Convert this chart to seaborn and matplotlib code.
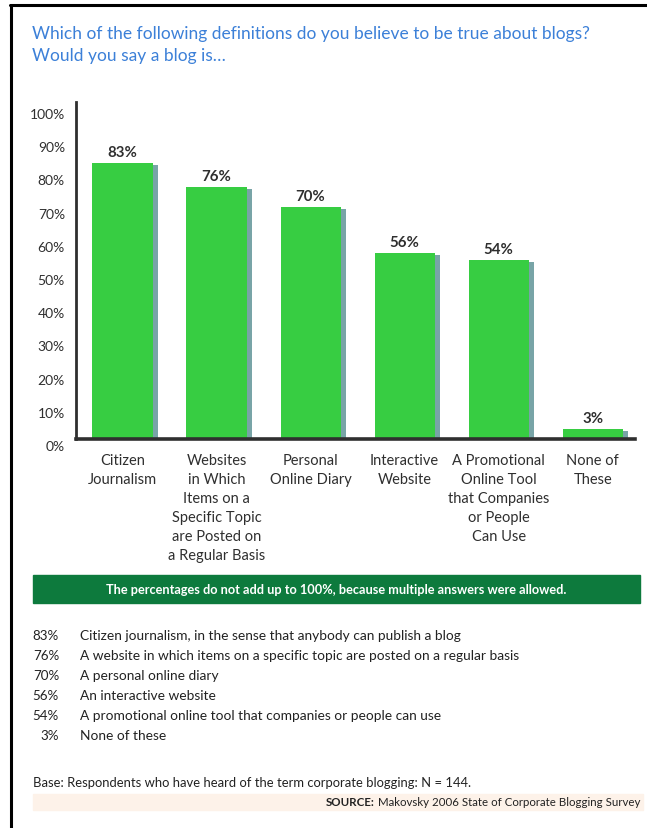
import matplotlib
matplotlib.use("Agg")
import matplotlib.pyplot as plt
import matplotlib.transforms as mtrans
from matplotlib.patches import Rectangle
from matplotlib.lines import Line2D
import seaborn as sns
import pandas as pd

# Survey answers
categories = [
    "Citizen\nJournalism",
    "Websites\nin Which\nItems on a\nSpecific Topic\nare Posted on\na Regular Basis",
    "Personal\nOnline Diary",
    "Interactive\nWebsite",
    "A Promotional\nOnline Tool\nthat Companies\nor People\nCan Use",
    "None of\nThese",
]
values = [83, 76, 70, 56, 54, 3]
descriptions = [
    "Citizen journalism, in the sense that anybody can publish a blog",
    "A website in which items on a specific topic are posted on a regular basis",
    "A personal online diary",
    "An interactive website",
    "A promotional online tool that companies or people can use",
    "None of these",
]
yticks = [0, 10, 20, 30, 40, 50, 60, 70, 80, 90, 100]

W, H = 647, 829
GREEN = "#37cd42"
SHADOW = "#78a4a7"
DARK = "#2f2f2f"
BLUE = "#3c80d8"
BANNER = "#0d7a3d"

sns.set_theme(style="white")
plt.rcParams["font.family"] = ["Lato", "DejaVu Sans"]

fig = plt.figure(figsize=(W / 100, H / 100), dpi=100)
fig.patch.set_facecolor("white")


def fx(px):
    return px / W


def fy(py):
    return 1 - py / H


ax = fig.add_axes([fx(76), fy(440), fx(635) - fx(76), fy(103) - fy(440)])
df = pd.DataFrame({"definition": categories, "share": values})

# shadow bars, nudged right and down
sns.barplot(data=df, x="definition", y="share", color=SHADOW, saturation=1,
            width=0.64, linewidth=0, ax=ax, zorder=1)
shift = mtrans.ScaledTranslation(0.055, -0.02, fig.dpi_scale_trans)
for p in ax.patches:
    p.set_transform(p.get_data_transform() + shift)

# main bars
sns.barplot(data=df, x="definition", y="share", color=GREEN, saturation=1,
            width=0.64, linewidth=0, ax=ax, zorder=2)

ax.set_xlim(-0.495, 5.45)
ax.set_ylim(0, 101.5)
ax.set_xlabel("")
ax.set_ylabel("")

for i, v in enumerate(values):
    ax.annotate(f"{v}%", (i, v), xytext=(0, 7), textcoords="offset pixels",
                ha="center", va="baseline", fontsize=10.8, fontweight="bold",
                color=DARK)

ax.set_yticks(yticks)
ax.set_yticklabels([f"{t}%" for t in yticks])
ax.tick_params(axis="y", length=0, pad=8, labelsize=10, labelcolor=DARK)
ax.tick_params(axis="x", length=0, pad=10, labelsize=10.5, labelcolor=DARK)
down = mtrans.ScaledTranslation(0, -0.06, fig.dpi_scale_trans)
for lab in ax.get_yticklabels():
    lab.set_transform(lab.get_transform() + down)
for lab in ax.get_xticklabels():
    lab.set_linespacing(1.45)
    lab.set_ha("center")

for side in ["top", "right"]:
    ax.spines[side].set_visible(False)
ax.spines["left"].set_color(DARK)
ax.spines["left"].set_linewidth(2)
ax.spines["bottom"].set_color(DARK)
ax.spines["bottom"].set_linewidth(2.6)
for s in ax.spines.values():
    s.set_zorder(5)

# title
fig.text(fx(32), fy(34), "Which of the following definitions do you believe to be true about blogs?",
         color=BLUE, fontsize=12.5, ha="left", va="center")
fig.text(fx(32), fy(56), "Would you say a blog is\u2026",
         color=BLUE, fontsize=12.5, ha="left", va="center")

# note banner
fig.patches.append(Rectangle((fx(33), fy(604)), fx(640) - fx(33), fy(576) - fy(604),
                             transform=fig.transFigure, color=BANNER, zorder=0))
fig.text(fx(336), fy(590),
         "The percentages do not add up to 100%, because multiple answers were allowed.",
         color="white", fontsize=9.2, fontweight="bold", ha="center", va="center")

# answer list
rows_y = [636, 656, 676, 696, 716, 736]
for v, d, y in zip(values, descriptions, rows_y):
    fig.text(fx(59), fy(y), f"{v}%", fontsize=9.6, color="#222222", ha="right", va="center")
    fig.text(fx(80), fy(y), d, fontsize=9.9, color="#222222", ha="left", va="center")

fig.text(fx(33), fy(783), "Base: Respondents who have heard of the term corporate blogging: N = 144.",
         fontsize=9.4, color="#222222", ha="left", va="center")

# source strip
fig.patches.append(Rectangle((fx(33), fy(811)), fx(643) - fx(33), fy(795) - fy(811),
                             transform=fig.transFigure, color="#fdf2e9", zorder=0))
src = fig.text(fx(640), fy(803), "Makovsky 2006 State of Corporate Blogging Survey",
               fontsize=8.3, color="#222222", ha="right", va="center")
fig.canvas.draw()
bb = src.get_window_extent()
fig.text((bb.x0 - 3) / W, fy(803), "SOURCE:", fontsize=8.3, fontweight="bold",
         color="#222222", ha="right", va="center")

# frame lines
fig.add_artist(Line2D([fx(10), 1], [fy(6), fy(6)], transform=fig.transFigure,
                      color="black", linewidth=2.2))
fig.add_artist(Line2D([fx(11), fx(11)], [fy(6), 0], transform=fig.transFigure,
                      color="black", linewidth=2.2))

fig.savefig("out.png", dpi=100)
